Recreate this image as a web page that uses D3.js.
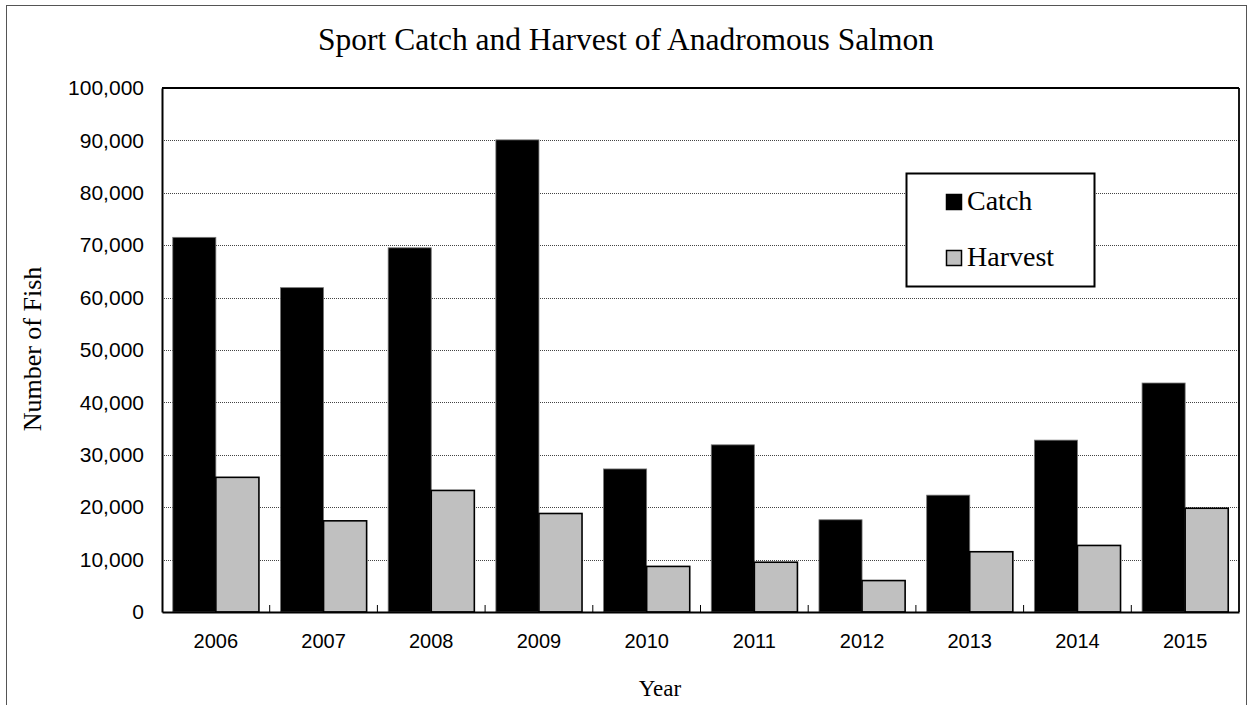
<!DOCTYPE html>
<html>
<head>
<meta charset="utf-8">
<script src="https://cdn.jsdelivr.net/npm/d3@7"></script>
<style>
  html, body { margin: 0; padding: 0; background: #fff; }
  svg { display: block; }
</style>
</head>
<body>
<svg id="chart" width="1250" height="705"></svg>
<script>
const years = ["2006","2007","2008","2009","2010","2011","2012","2013","2014","2015"];
const seriesNames = ["Catch", "Harvest"];
const catchValues = [71500, 61900, 69500, 90100, 27300, 31900, 17600, 22300, 32800, 43700];
const harvestValues = [25700, 17400, 23200, 18800, 8700, 9500, 6000, 11500, 12700, 19800];
const yTicks = [0, 10000, 20000, 30000, 40000, 50000, 60000, 70000, 80000, 90000, 100000];

const svg = d3.select("#chart");
const m = { left: 162, top: 88, right: 1239, bottom: 612 };

// outer chart border
svg.append("rect")
  .attr("x", 6.5).attr("y", 5.5)
  .attr("width", 1240).attr("height", 720)
  .attr("fill", "none").attr("stroke", "#555").attr("stroke-width", 1);

const x0 = d3.scaleBand().domain(years).range([m.left, m.right]).paddingInner(0).paddingOuter(0);
const x1 = d3.scaleBand().domain(seriesNames).range([0, x0.bandwidth()]).paddingInner(0).paddingOuter(0.25);
const y = d3.scaleLinear().domain([0, 100000]).range([m.bottom, m.top]);

// gridlines
svg.append("g")
  .selectAll("line")
  .data(yTicks.filter(d => d > 0 && d < 100000))
  .join("line")
  .attr("x1", m.left).attr("x2", m.right)
  .attr("y1", d => Math.round(y(d)) + 0.5).attr("y2", d => Math.round(y(d)) + 0.5)
  .attr("stroke", "#444").attr("stroke-width", 1).attr("stroke-dasharray", "1,1");

const data = years.map((yr, i) => ({ year: yr, vals: [
  { s: "Catch", v: catchValues[i] },
  { s: "Harvest", v: harvestValues[i] }
]}));

const groups = svg.append("g").selectAll("g")
  .data(data).join("g")
  .attr("transform", d => `translate(${x0(d.year)},0)`);

groups.selectAll("rect")
  .data(d => d.vals).join("rect")
  .attr("x", d => x1(d.s))
  .attr("width", x1.bandwidth())
  .attr("y", d => y(d.v))
  .attr("height", d => y(0) - y(d.v))
  .attr("fill", d => d.s === "Catch" ? "#000" : "#c0c0c0")
  .attr("stroke", d => d.s === "Catch" ? "#777" : "#000")
  .attr("stroke-width", d => d.s === "Catch" ? 0.8 : 1.6);

// plot frame top/right
svg.append("line").attr("x1", m.left).attr("x2", m.right).attr("y1", m.top).attr("y2", m.top)
  .attr("stroke", "#000").attr("stroke-width", 1.8);
svg.append("line").attr("x1", m.right).attr("x2", m.right).attr("y1", m.top).attr("y2", m.bottom)
  .attr("stroke", "#000").attr("stroke-width", 1.8);

// y axis
const yAxis = d3.axisLeft(y).tickValues(yTicks).tickSize(0).tickPadding(18)
  .tickFormat(d3.format(","));
const gy = svg.append("g").attr("transform", `translate(${m.left},0)`).call(yAxis);
gy.select(".domain").attr("stroke", "#000").attr("stroke-width", 2);
gy.selectAll("text").attr("font-family", "Liberation Sans, Arial, sans-serif")
  .attr("font-size", 21).attr("fill", "#000");

// x axis
const xAxis = d3.axisBottom(x0).tickSize(0).tickPadding(22);
const gx = svg.append("g").attr("transform", `translate(0,${m.bottom})`).call(xAxis);
gx.select(".domain").attr("stroke", "#000").attr("stroke-width", 2);
gx.selectAll("text").attr("font-family", "Liberation Sans, Arial, sans-serif")
  .attr("font-size", 20).attr("fill", "#000");

// x inner tick marks at group boundaries
svg.append("g").selectAll("line")
  .data(years.slice(1)).join("line")
  .attr("x1", d => x0(d)).attr("x2", d => x0(d))
  .attr("y1", m.bottom).attr("y2", m.bottom - 7)
  .attr("stroke", "#000").attr("stroke-width", 1);

// title
svg.append("text").attr("x", 626).attr("y", 50)
  .attr("text-anchor", "middle")
  .attr("font-family", "Liberation Serif, Times New Roman, serif")
  .attr("font-size", 31.5).attr("fill", "#000")
  .text("Sport Catch and Harvest of Anadromous Salmon");

// axis titles
svg.append("text").attr("x", 660).attr("y", 696)
  .attr("text-anchor", "middle")
  .attr("font-family", "Liberation Serif, Times New Roman, serif")
  .attr("font-size", 23).attr("fill", "#000")
  .text("Year");

svg.append("text")
  .attr("transform", "translate(41,349) rotate(-90)")
  .attr("text-anchor", "middle")
  .attr("font-family", "Liberation Serif, Times New Roman, serif")
  .attr("font-size", 26).attr("fill", "#000")
  .text("Number of Fish");

// legend
const lg = svg.append("g");
lg.append("rect").attr("x", 906.5).attr("y", 173.5).attr("width", 188).attr("height", 113)
  .attr("fill", "#fff").attr("stroke", "#000").attr("stroke-width", 2);
const legItems = [
  { s: "Catch", fill: "#000", stroke: "#000", yy: 194 },
  { s: "Harvest", fill: "#c0c0c0", stroke: "#000", yy: 250 }
];
legItems.forEach(it => {
  lg.append("rect").attr("x", 946.5).attr("y", it.yy + 0.5).attr("width", 15).attr("height", 15)
    .attr("fill", it.fill).attr("stroke", it.stroke).attr("stroke-width", 1.5);
  lg.append("text").attr("x", 967).attr("y", it.yy + 16)
    .attr("font-family", "Liberation Serif, Times New Roman, serif")
    .attr("font-size", 28).attr("fill", "#000").text(it.s);
});
</script>
</body>
</html>
